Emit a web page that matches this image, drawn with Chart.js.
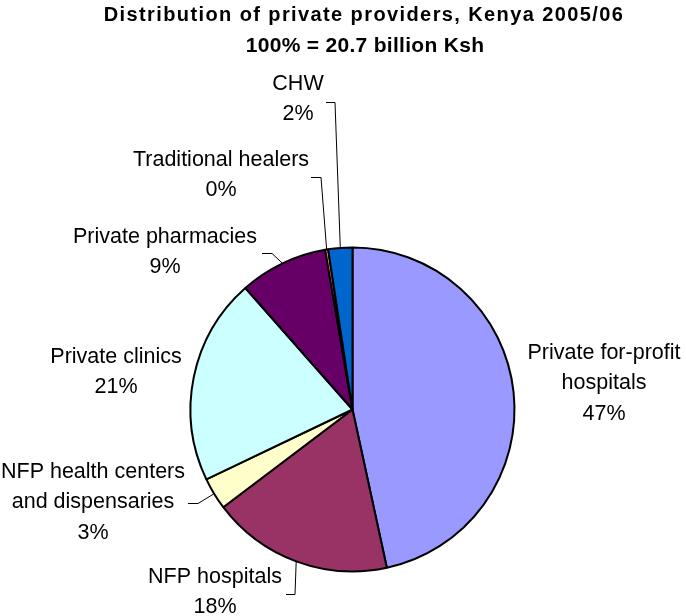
<!DOCTYPE html>
<html>
<head>
<meta charset="utf-8">
<script src="https://cdn.jsdelivr.net/npm/chart.js@4.4.1/dist/chart.umd.min.js"></script>
<style>
  html, body { margin: 0; padding: 0; background: #fff; }
  #wrap { position: relative; width: 686px; height: 616px; }
</style>
</head>
<body>
<div id="wrap"><canvas id="chart-providers"></canvas></div>
<script>
// Spending share by private provider type (percent of 20.7 billion Ksh)
const providers = ['Private for-profit hospitals', 'NFP hospitals', 'NFP health centers and dispensaries',
  'Private clinics', 'Private pharmacies', 'Traditional healers', 'CHW'];
const shares = [46.6, 18.1, 3.2, 20.6, 8.8, 0.3, 2.4];
const labelLines = [
  ['Private for-profit', 'hospitals'],
  ['NFP hospitals'],
  ['NFP health centers', 'and dispensaries'],
  ['Private clinics'],
  ['Private pharmacies'],
  ['Traditional healers'],
  ['CHW'],
];
const titleLines = ['Distribution of private providers, Kenya 2005/06', '100% = 20.7 billion Ksh'];

const sliceColors = ['#9999ff', '#993366', '#ffffcc', '#ccffff', '#660066', '#ff8080', '#0066cc'];

// label block placement (center x, first line y) and leader elbows
const labelPos = [[604, 353], [215, 577], [93, 472], [116, 357], [165, 237], [221, 160], [298, 84]];
const leaders = [
  null,
  [[286, 594], [295, 594]],
  [[188, 503], [198, 503]],
  null,
  [[262, 253], [272, 253]],
  [[311, 177], [321, 177]],
  [[326, 102], [335, 102]],
];
const LINE_GAP = 30.5;

const sliceLabels = {
  id: 'sliceLabels',
  afterDraw(chart) {
    const ctx = chart.ctx;
    const arcs = chart.getDatasetMeta(0).data;
    ctx.save();
    ctx.fillStyle = '#000';
    ctx.textAlign = 'center';
    ctx.textBaseline = 'middle';

    // two-line bold heading
    ctx.font = 'bold 20px "Liberation Sans", Arial, sans-serif';
    ctx.letterSpacing = '1.4px';
    ctx.fillText(titleLines[0], 364, 15);
    ctx.font = 'bold 21px "Liberation Sans", Arial, sans-serif';
    ctx.letterSpacing = '0.3px';
    ctx.fillText(titleLines[1], 365, 46);

    ctx.letterSpacing = '0px';
    ctx.font = '21.5px "Liberation Sans", Arial, sans-serif';
    arcs.forEach((arc, i) => {
      const [lx, ly] = labelPos[i];
      const lines = [...labelLines[i], Math.round(shares[i]) + '%'];
      lines.forEach((t, k) => ctx.fillText(t, lx, ly + k * LINE_GAP));

      const lead = leaders[i];
      if (!lead) return;
      const mid = (arc.startAngle + arc.endAngle) / 2;
      const ex = arc.x + arc.outerRadius * Math.cos(mid);
      const ey = arc.y + arc.outerRadius * Math.sin(mid);
      ctx.beginPath();
      ctx.moveTo(lead[0][0], lead[0][1] + 0.5);
      ctx.lineTo(lead[1][0], lead[1][1] + 0.5);
      ctx.lineTo(ex, ey);
      ctx.strokeStyle = '#000';
      ctx.lineWidth = 1;
      ctx.stroke();
    });
    ctx.restore();
  }
};

new Chart(document.getElementById('chart-providers'), {
  type: 'pie',
  data: {
    labels: providers,
    datasets: [{
      data: shares,
      backgroundColor: sliceColors,
      borderColor: '#000',
      borderWidth: 2,
      hoverBorderWidth: 2,
      hoverOffset: 0,
    }]
  },
  options: {
    responsive: true, maintainAspectRatio: false,
    animation: false,
    layout: { padding: { left: 189.5, right: 170.5, top: 246.5, bottom: 43.5 } },
    plugins: { legend: { display: false }, tooltip: { enabled: false }, title: { display: false } },
  },
  plugins: [sliceLabels]
});
</script>
</body>
</html>
